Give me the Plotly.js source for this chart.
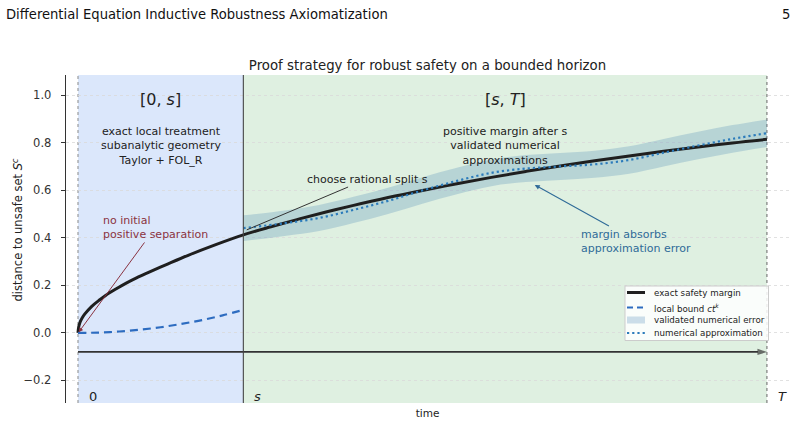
<!DOCTYPE html>
<html><head><meta charset="utf-8">
<script src="https://cdn.plot.ly/plotly-3.0.1.min.js"></script>
<style>html,body{margin:0;padding:0;background:#fff}#chart{width:800px;height:424px}</style>
</head><body><div id="chart"></div>
<script>
// ---- data ----
const S = 0.24, T = 1.0;
const exactT = [0, 0.001, 0.003, 0.006, 0.01, 0.02, 0.03, 0.04, 0.055, 0.07, 0.085, 0.1, 0.13, 0.16, 0.2, 0.24,
                0.28, 0.32, 0.36, 0.4, 0.45, 0.5, 0.55, 0.6, 0.65, 0.7, 0.75, 0.8, 0.85, 0.9, 0.95, 1.0];
const exactY = [0, 0.025, 0.045, 0.063, 0.08, 0.112, 0.136, 0.158, 0.185, 0.21, 0.232, 0.252, 0.29, 0.327, 0.372, 0.413,
                0.447, 0.479, 0.509, 0.537, 0.570, 0.600, 0.628, 0.655, 0.680, 0.703, 0.725, 0.745, 0.765, 0.783, 0.800, 0.815];
const boundT = [0, 0.03, 0.06, 0.09, 0.12, 0.15, 0.18, 0.21, 0.24];
const boundY = [0, 0.0015, 0.006, 0.0136, 0.024, 0.038, 0.054, 0.074, 0.097];
const approxT = [0.24, 0.3, 0.35, 0.4, 0.45, 0.5, 0.55, 0.6, 0.65, 0.7, 0.75, 0.8, 0.85, 0.9, 0.95, 1.0];
const approxY = [0.441, 0.462, 0.484, 0.518, 0.556, 0.600, 0.640, 0.674, 0.692, 0.701, 0.710, 0.728, 0.759, 0.789, 0.817, 0.841];
const bandHi  = [0.495, 0.516, 0.539, 0.573, 0.611, 0.656, 0.696, 0.730, 0.749, 0.758, 0.767, 0.786, 0.817, 0.847, 0.875, 0.899];
const bandLo  = [0.387, 0.408, 0.429, 0.463, 0.501, 0.544, 0.584, 0.618, 0.635, 0.644, 0.653, 0.670, 0.701, 0.731, 0.759, 0.783];
const timeAxisY = -0.08;
const yTicks = [-0.2, 0, 0.2, 0.4, 0.6, 0.8, 1.0];
const yTickText = ['\u22120.2', '0.0', '0.2', '0.4', '0.6', '0.8', '1.0'];
const legendNames = ['exact safety margin', 'local bound <i>ct</i><sup><i>k</i></sup>', 'validated numerical error', 'numerical approximation'];

// ---- styles ----
const F = 'DejaVu Sans, Verdana, sans-serif';
const TXT = '#222';
const C_EXACT = '#1f1f1f', C_BOUND = '#2d6cc0', C_APPROX = '#2b7bbb', C_BAND = 'rgba(70,130,180,0.26)';
const C_RED = '#8a3341', C_STEEL = '#2f6b98';
const PADLBL = '\u00a0\u00a0';

const traces = [
  {x: approxT, y: bandHi, mode: 'lines', line: {width: 0, shape: 'spline'}, hoverinfo: 'skip', showlegend: false},
  {x: approxT, y: bandLo, mode: 'lines', line: {width: 0, shape: 'spline'}, fill: 'tonexty', fillcolor: C_BAND, showlegend: false},
  {x: exactT, y: exactY, mode: 'lines', line: {color: C_EXACT, width: 3, shape: 'spline'}, showlegend: false},
  {x: boundT, y: boundY, mode: 'lines', line: {color: C_BOUND, width: 2.2, dash: '8px,5px', shape: 'spline'}, showlegend: false},
  {x: approxT, y: approxY, mode: 'lines', line: {color: C_APPROX, width: 2.2, dash: '2.2px,3px', shape: 'spline'}, showlegend: false},
  {x: [0, T], y: [timeAxisY, timeAxisY], mode: 'lines+markers', line: {color: '#333', width: 1.8},
   marker: {symbol: 'arrow', size: [0, 10], angleref: 'previous', color: '#333', line: {width: 0}}, showlegend: false}
];

// pixel->paper helpers for legend box / page header (plot area: x 66..789, y 75..403)
const PL = 66, PR = 789, PT = 75, PB = 403;
const px = v => (v - PL) / (PR - PL);
const py = v => (PB - v) / (PB - PT);

const shapes = [
  {type: 'rect', layer: 'below', xref: 'x', yref: 'paper', x0: 0, x1: S, y0: 0, y1: 1, fillcolor: '#dbe7fb', line: {width: 0}},
  {type: 'rect', layer: 'below', xref: 'x', yref: 'paper', x0: S, x1: T, y0: 0, y1: 1, fillcolor: '#dff0e1', line: {width: 0}},
  {type: 'line', layer: 'below', xref: 'x', yref: 'paper', x0: 0, x1: 0, y0: 0, y1: 1, line: {color: '#8a8a8a', width: 1, dash: 'dot'}},
  {type: 'line', layer: 'below', xref: 'x', yref: 'paper', x0: T, x1: T, y0: 0, y1: 1, line: {color: '#666', width: 1, dash: 'dot'}},
  {type: 'line', layer: 'above', xref: 'x', yref: 'paper', x0: S, x1: S, y0: 0, y1: 1, line: {color: '#444', width: 1.1}},
  // legend box
  {type: 'rect', xref: 'paper', yref: 'paper', x0: px(625), x1: px(768.5), y0: py(340.5), y1: py(286), fillcolor: 'rgba(255,255,255,0.85)', line: {color: '#cccccc', width: 1}},
  {type: 'line', xref: 'paper', yref: 'paper', x0: px(627), x1: px(645), y0: py(292.5), y1: py(292.5), line: {color: C_EXACT, width: 3}},
  {type: 'line', xref: 'paper', yref: 'paper', x0: px(627), x1: px(645), y0: py(307.5), y1: py(307.5), line: {color: C_BOUND, width: 2.2, dash: '6px,4px'}},
  {type: 'rect', xref: 'paper', yref: 'paper', x0: px(627), x1: px(645), y0: py(323.5), y1: py(316.5), fillcolor: 'rgba(70,130,180,0.26)', line: {width: 0}},
  {type: 'line', xref: 'paper', yref: 'paper', x0: px(627), x1: px(645), y0: py(333), y1: py(333), line: {color: C_APPROX, width: 2.2, dash: '2.2px,3px'}}
];

const ann = [];
const t = (text, x, y, o) => ann.push(Object.assign({text, x, y, xref: 'x', yref: 'y', showarrow: false,
  font: {family: F, size: 11, color: TXT}}, o || {}));
// region headers
t('[0, <i>s</i>]', 0.12, 0.981, {font: {family: F, size: 16, color: TXT}});
t('[<i>s</i>, <i>T</i>]', 0.62, 0.981, {font: {family: F, size: 16, color: TXT}});
t('exact local treatment<br>subanalytic geometry<br>Taylor + FOL_R', 0.12, 0.787);
t('positive margin after s<br>validated numerical<br>approximations', 0.62, 0.787);
// annotated texts with arrows (text sits at the arrow tail)
const arrowText = (text, ax, ay, x, y, color, head, w, align) => ann.push({text, x, y, ax, ay,
  xref: 'x', yref: 'y', axref: 'x', ayref: 'y', align: align || 'center',
  showarrow: true, arrowcolor: color === TXT ? '#333' : color, arrowwidth: w, arrowhead: head, arrowsize: 0.9,
  font: {family: F, size: 11, color}});
arrowText('choose rational split s', 0.4195, 0.648, 0.245, 0.434, TXT, 0, 1);
arrowText('no initial<br>positive separation', 0.1125, 0.444, 0.001, 0.003, C_RED, 2, 1, 'left');
arrowText('margin absorbs<br>approximation error', 0.81, 0.387, 0.663, 0.623, C_STEEL, 2, 1.1, 'left');
// time marks
t('0', 0, -0.267, {xanchor: 'left', xshift: 9, font: {family: F, size: 13, color: TXT}});
t('<i>s</i>', S, -0.267, {xanchor: 'left', xshift: 9, font: {family: F, size: 13, color: TXT}});
t('<i>T</i>', T, -0.267, {xanchor: 'left', xshift: 9, font: {family: F, size: 13, color: TXT}});
// legend texts
legendNames.forEach((n, i) => ann.push({text: n, xref: 'paper', yref: 'paper', x: px(652), y: py([292.5, 307.5, 320, 333][i]),
  xanchor: 'left', yanchor: 'middle', showarrow: false, font: {family: F, size: 8.7, color: TXT}}));
// y-axis title
ann.push({text: 'distance to unsafe set <i>S</i><sup><i>c</i></sup>', xref: 'paper', yref: 'paper', x: px(18), y: py(229.5),
  textangle: -90, xanchor: 'center', yanchor: 'middle', showarrow: false, font: {family: F, size: 11.5, color: TXT}});
// page header
ann.push({text: 'Differential Equation Inductive Robustness Axiomatization', xref: 'paper', yref: 'paper', x: px(4), y: py(13),
  xanchor: 'left', yanchor: 'middle', showarrow: false,
  font: {family: 'Liberation Sans Narrow, DejaVu Sans Condensed, Arial Narrow, sans-serif', size: 14.6, color: '#111'}});
ann.push({text: '5', xref: 'paper', yref: 'paper', x: px(792), y: py(13), xanchor: 'right', yanchor: 'middle', showarrow: false,
  font: {family: 'Liberation Sans Narrow, DejaVu Sans Condensed, sans-serif', size: 14.6, color: '#111'}});

const layout = {
  width: 800, height: 424,
  margin: {l: PL, r: 800 - PR, t: PT, b: 424 - PB},
  paper_bgcolor: '#fff', plot_bgcolor: '#fff',
  title: {text: 'Proof strategy for robust safety on a bounded horizon', x: 0.5, xref: 'paper', y: 1 - 65 / 424, yref: 'container',
    xanchor: 'center', yanchor: 'middle', font: {family: F, size: 13.3, color: TXT}},
  xaxis: {range: [-0.0174, 1.032], showgrid: false, zeroline: false, showline: false, showticklabels: false, ticks: '',
    title: {text: 'time', standoff: 6, font: {family: F, size: 10.5, color: TXT}}},
  yaxis: {range: [-0.295, 1.086], tickvals: yTicks, ticktext: yTickText.map(s => s + PADLBL), ticks: 'outside', ticklen: 4, tickcolor: '#333',
    showline: true, linecolor: '#333', linewidth: 1, zeroline: false,
    showgrid: true, gridcolor: '#d9d9d9', gridwidth: 0.8, griddash: 'dot',
    tickfont: {family: F, size: 11.5, color: '#333'}},
  shapes, annotations: ann, showlegend: false
};
Plotly.newPlot('chart', traces, layout, {staticPlot: true, displayModeBar: false});
</script></body></html>
